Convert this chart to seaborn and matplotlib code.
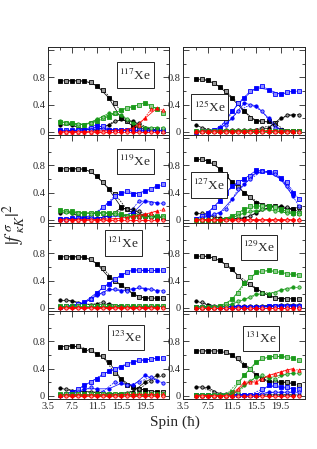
import numpy as np
import pandas as pd
import seaborn as sns
import matplotlib.pyplot as plt
from matplotlib.patches import Rectangle
from matplotlib.ticker import MultipleLocator, FixedLocator

# spins (hbar), one value per spin; even index = filled / solid, odd index = open / dashed
spins = np.arange(5.5, 23.0, 1.0)

# series order: black sq, black circ, blue sq, blue circ, green sq, green circ, red tri, red circ
xe117 = [
    [0.75, 0.75, 0.75, 0.75, 0.75, 0.73, 0.68, 0.62, 0.50, 0.43, 0.20, 0.15, 0.08, 0.05, 0.03, 0.02, 0.02, 0.01],
    [0.10, 0.12, 0.10, 0.06, 0.03, 0.02, 0.02, 0.05, 0.10, 0.16, 0.18, 0.17, 0.15, 0.12, 0.05, 0.03, 0.03, 0.02],
    [0.02, 0.02, 0.02, 0.02, 0.03, 0.05, 0.10, 0.08, 0.03, 0.02, 0.03, 0.03, 0.02, 0.02, 0.02, 0.02, 0.02, 0.02],
    [0.01, 0.01, 0.01, 0.02, 0.02, 0.03, 0.06, 0.04, 0.02, 0.02, 0.02, 0.02, 0.01, 0.01, 0.01, 0.01, 0.01, 0.01],
    [0.14, 0.13, 0.12, 0.10, 0.10, 0.12, 0.15, 0.20, 0.22, 0.28, 0.32, 0.35, 0.37, 0.40, 0.43, 0.38, 0.33, 0.28],
    [0.15, 0.13, 0.12, 0.11, 0.10, 0.13, 0.18, 0.22, 0.27, 0.27, 0.25, 0.18, 0.12, 0.08, 0.06, 0.06, 0.06, 0.06],
    [0.00, 0.00, 0.00, 0.00, 0.00, 0.00, 0.01, 0.01, 0.01, 0.02, 0.02, 0.03, 0.05, 0.10, 0.20, 0.33, 0.35, 0.32],
    [0.00, 0.00, 0.00, 0.00, 0.00, 0.00, 0.00, 0.00, 0.00, 0.00, 0.00, 0.00, 0.00, 0.00, 0.00, 0.00, 0.00, 0.00],
]
xe125 = [
    [0.78, 0.78, 0.76, 0.72, 0.66, 0.60, 0.49, 0.42, 0.30, 0.20, 0.15, 0.15, 0.15, 0.12, 0.02, 0.01, 0.01, 0.01],
    [0.10, 0.06, 0.02, 0.02, 0.02, 0.02, 0.02, 0.02, 0.02, 0.02, 0.03, 0.06, 0.05, 0.10, 0.20, 0.25, 0.25, 0.25],
    [0.00, 0.01, 0.01, 0.02, 0.05, 0.15, 0.30, 0.42, 0.50, 0.60, 0.65, 0.68, 0.62, 0.55, 0.55, 0.58, 0.60, 0.60],
    [0.01, 0.01, 0.01, 0.02, 0.04, 0.10, 0.20, 0.30, 0.42, 0.40, 0.38, 0.30, 0.20, 0.05, 0.02, 0.01, 0.01, 0.01],
    [0.01, 0.01, 0.01, 0.01, 0.01, 0.01, 0.01, 0.01, 0.01, 0.01, 0.01, 0.01, 0.01, 0.01, 0.01, 0.01, 0.01, 0.01],
    [0.01, 0.01, 0.01, 0.01, 0.01, 0.01, 0.01, 0.01, 0.01, 0.01, 0.01, 0.01, 0.01, 0.01, 0.01, 0.01, 0.01, 0.01],
    [0.01, 0.01, 0.01, 0.01, 0.01, 0.01, 0.01, 0.01, 0.01, 0.01, 0.02, 0.02, 0.02, 0.01, 0.01, 0.01, 0.01, 0.01],
    [0.00, 0.00, 0.00, 0.00, 0.00, 0.00, 0.00, 0.00, 0.00, 0.00, 0.00, 0.00, 0.00, 0.00, 0.00, 0.00, 0.00, 0.00],
]
xe119 = [
    [0.75, 0.75, 0.75, 0.75, 0.75, 0.72, 0.65, 0.55, 0.45, 0.38, 0.19, 0.15, 0.10, 0.05, 0.05, 0.05, 0.04, 0.04],
    [0.10, 0.12, 0.10, 0.05, 0.02, 0.02, 0.02, 0.03, 0.05, 0.10, 0.17, 0.16, 0.15, 0.12, 0.05, 0.04, 0.04, 0.03],
    [0.01, 0.01, 0.02, 0.02, 0.03, 0.05, 0.10, 0.18, 0.25, 0.35, 0.40, 0.42, 0.38, 0.38, 0.42, 0.45, 0.50, 0.52],
    [0.01, 0.01, 0.01, 0.01, 0.02, 0.02, 0.02, 0.03, 0.05, 0.08, 0.05, 0.05, 0.10, 0.28, 0.28, 0.25, 0.25, 0.24],
    [0.14, 0.13, 0.12, 0.10, 0.10, 0.10, 0.10, 0.10, 0.10, 0.10, 0.08, 0.06, 0.05, 0.05, 0.05, 0.05, 0.06, 0.05],
    [0.12, 0.11, 0.10, 0.10, 0.09, 0.09, 0.09, 0.10, 0.09, 0.08, 0.06, 0.05, 0.04, 0.04, 0.04, 0.04, 0.04, 0.04],
    [0.00, 0.00, 0.00, 0.00, 0.00, 0.00, 0.00, 0.01, 0.01, 0.01, 0.02, 0.03, 0.05, 0.05, 0.08, 0.10, 0.13, 0.15],
    [0.00, 0.00, 0.00, 0.00, 0.00, 0.00, 0.00, 0.00, 0.00, 0.00, 0.00, 0.00, 0.00, 0.00, 0.00, 0.00, 0.00, 0.00],
]
xe127 = [
    [0.90, 0.90, 0.87, 0.83, 0.75, 0.65, 0.55, 0.48, 0.40, 0.33, 0.25, 0.22, 0.20, 0.20, 0.17, 0.15, 0.15, 0.18],
    [0.10, 0.10, 0.06, 0.05, 0.02, 0.01, 0.01, 0.02, 0.02, 0.05, 0.10, 0.15, 0.18, 0.20, 0.20, 0.18, 0.15, 0.12],
    [0.01, 0.05, 0.10, 0.18, 0.28, 0.40, 0.50, 0.55, 0.60, 0.65, 0.73, 0.72, 0.70, 0.70, 0.62, 0.55, 0.40, 0.30],
    [0.01, 0.02, 0.05, 0.08, 0.10, 0.15, 0.30, 0.45, 0.52, 0.60, 0.70, 0.72, 0.70, 0.68, 0.60, 0.50, 0.35, 0.20],
    [0.00, 0.00, 0.00, 0.00, 0.00, 0.01, 0.05, 0.10, 0.15, 0.20, 0.20, 0.20, 0.20, 0.18, 0.15, 0.12, 0.10, 0.10],
    [0.00, 0.00, 0.00, 0.00, 0.00, 0.01, 0.03, 0.06, 0.10, 0.12, 0.13, 0.15, 0.15, 0.13, 0.12, 0.10, 0.08, 0.08],
    [0.01, 0.01, 0.01, 0.01, 0.01, 0.01, 0.01, 0.01, 0.01, 0.01, 0.01, 0.01, 0.01, 0.01, 0.01, 0.01, 0.01, 0.01],
    [0.00, 0.00, 0.00, 0.00, 0.00, 0.00, 0.00, 0.00, 0.00, 0.00, 0.00, 0.00, 0.00, 0.00, 0.00, 0.00, 0.00, 0.00],
]
xe121 = [
    [0.75, 0.75, 0.75, 0.75, 0.75, 0.72, 0.65, 0.58, 0.45, 0.40, 0.33, 0.28, 0.20, 0.15, 0.14, 0.14, 0.14, 0.14],
    [0.11, 0.11, 0.10, 0.07, 0.05, 0.04, 0.05, 0.08, 0.05, 0.03, 0.02, 0.02, 0.02, 0.02, 0.02, 0.02, 0.02, 0.02],
    [0.01, 0.02, 0.03, 0.05, 0.08, 0.12, 0.22, 0.30, 0.35, 0.42, 0.48, 0.52, 0.56, 0.55, 0.55, 0.55, 0.55, 0.55],
    [0.01, 0.01, 0.02, 0.03, 0.07, 0.12, 0.18, 0.22, 0.27, 0.28, 0.25, 0.25, 0.28, 0.30, 0.28, 0.27, 0.25, 0.25],
    [0.02, 0.02, 0.02, 0.02, 0.02, 0.02, 0.02, 0.02, 0.02, 0.02, 0.02, 0.02, 0.02, 0.02, 0.02, 0.02, 0.02, 0.02],
    [0.01, 0.01, 0.01, 0.01, 0.01, 0.01, 0.01, 0.01, 0.01, 0.01, 0.01, 0.01, 0.01, 0.01, 0.01, 0.01, 0.01, 0.01],
    [0.01, 0.01, 0.01, 0.01, 0.01, 0.01, 0.01, 0.01, 0.01, 0.01, 0.01, 0.01, 0.01, 0.01, 0.01, 0.01, 0.01, 0.01],
    [0.00, 0.00, 0.00, 0.00, 0.00, 0.00, 0.00, 0.00, 0.00, 0.00, 0.00, 0.00, 0.00, 0.00, 0.00, 0.00, 0.00, 0.00],
]
xe129 = [
    [0.76, 0.76, 0.76, 0.74, 0.70, 0.63, 0.57, 0.47, 0.37, 0.35, 0.28, 0.22, 0.18, 0.14, 0.13, 0.13, 0.13, 0.13],
    [0.10, 0.08, 0.04, 0.03, 0.02, 0.02, 0.02, 0.02, 0.02, 0.02, 0.02, 0.02, 0.03, 0.03, 0.04, 0.04, 0.04, 0.04],
    [0.01, 0.01, 0.01, 0.01, 0.01, 0.01, 0.01, 0.01, 0.01, 0.01, 0.01, 0.01, 0.02, 0.02, 0.03, 0.03, 0.03, 0.03],
    [0.01, 0.01, 0.01, 0.01, 0.01, 0.01, 0.01, 0.01, 0.01, 0.01, 0.01, 0.01, 0.01, 0.02, 0.02, 0.02, 0.02, 0.02],
    [0.01, 0.01, 0.01, 0.01, 0.02, 0.05, 0.12, 0.22, 0.36, 0.45, 0.52, 0.54, 0.55, 0.54, 0.52, 0.50, 0.49, 0.48],
    [0.01, 0.01, 0.01, 0.01, 0.01, 0.02, 0.05, 0.10, 0.12, 0.15, 0.20, 0.22, 0.20, 0.22, 0.26, 0.28, 0.30, 0.30],
    [0.00, 0.00, 0.00, 0.00, 0.00, 0.00, 0.00, 0.00, 0.00, 0.00, 0.00, 0.00, 0.00, 0.00, 0.00, 0.00, 0.00, 0.00],
    [0.00, 0.00, 0.00, 0.00, 0.00, 0.00, 0.00, 0.00, 0.00, 0.00, 0.00, 0.00, 0.00, 0.00, 0.00, 0.00, 0.00, 0.00],
]
xe123 = [
    [0.72, 0.72, 0.74, 0.73, 0.68, 0.67, 0.62, 0.58, 0.50, 0.33, 0.25, 0.15, 0.12, 0.10, 0.08, 0.06, 0.05, 0.05],
    [0.11, 0.10, 0.07, 0.06, 0.06, 0.05, 0.05, 0.04, 0.03, 0.03, 0.03, 0.04, 0.06, 0.10, 0.20, 0.22, 0.30, 0.30],
    [0.01, 0.02, 0.05, 0.10, 0.15, 0.20, 0.25, 0.32, 0.36, 0.40, 0.42, 0.47, 0.50, 0.52, 0.53, 0.54, 0.55, 0.56],
    [0.01, 0.01, 0.02, 0.05, 0.10, 0.12, 0.10, 0.06, 0.10, 0.20, 0.18, 0.15, 0.15, 0.20, 0.30, 0.28, 0.22, 0.18],
    [0.02, 0.02, 0.02, 0.02, 0.02, 0.02, 0.02, 0.02, 0.02, 0.02, 0.02, 0.02, 0.02, 0.02, 0.02, 0.02, 0.02, 0.02],
    [0.01, 0.01, 0.01, 0.01, 0.01, 0.01, 0.01, 0.01, 0.01, 0.01, 0.01, 0.01, 0.01, 0.01, 0.01, 0.01, 0.01, 0.01],
    [0.01, 0.01, 0.01, 0.01, 0.01, 0.01, 0.01, 0.01, 0.01, 0.01, 0.01, 0.02, 0.02, 0.02, 0.02, 0.02, 0.02, 0.02],
    [0.00, 0.00, 0.00, 0.00, 0.00, 0.00, 0.00, 0.00, 0.00, 0.00, 0.00, 0.00, 0.00, 0.00, 0.00, 0.00, 0.00, 0.00],
]
xe131 = [
    [0.66, 0.66, 0.66, 0.66, 0.66, 0.65, 0.60, 0.55, 0.45, 0.40, 0.30, 0.25, 0.20, 0.20, 0.20, 0.20, 0.18, 0.15],
    [0.13, 0.12, 0.12, 0.05, 0.02, 0.02, 0.01, 0.01, 0.01, 0.01, 0.01, 0.01, 0.01, 0.01, 0.01, 0.01, 0.01, 0.01],
    [0.01, 0.01, 0.01, 0.01, 0.01, 0.01, 0.01, 0.01, 0.01, 0.01, 0.01, 0.10, 0.15, 0.15, 0.12, 0.12, 0.10, 0.10],
    [0.01, 0.01, 0.01, 0.01, 0.01, 0.01, 0.01, 0.01, 0.01, 0.01, 0.01, 0.03, 0.05, 0.05, 0.05, 0.05, 0.05, 0.05],
    [0.01, 0.01, 0.01, 0.01, 0.01, 0.01, 0.05, 0.20, 0.30, 0.40, 0.50, 0.56, 0.57, 0.58, 0.58, 0.57, 0.55, 0.52],
    [0.01, 0.01, 0.01, 0.01, 0.01, 0.01, 0.01, 0.05, 0.15, 0.22, 0.28, 0.30, 0.26, 0.24, 0.30, 0.32, 0.33, 0.33],
    [0.00, 0.00, 0.00, 0.00, 0.00, 0.00, 0.00, 0.10, 0.20, 0.20, 0.20, 0.25, 0.30, 0.32, 0.35, 0.38, 0.40, 0.38],
    [0.00, 0.00, 0.00, 0.00, 0.00, 0.00, 0.00, 0.00, 0.00, 0.00, 0.00, 0.00, 0.00, 0.00, 0.00, 0.00, 0.00, 0.00],
]

panels = [xe117, xe125, xe119, xe127, xe121, xe129, xe123, xe131]
isotopes = ['117', '125', '119', '127', '121', '129', '123', '131']
label_pos = [(0.72, 0.68), (0.215, 0.32), (0.72, 0.70), (0.21, 0.43),
             (0.62, 0.77), (0.62, 0.72), (0.64, 0.70), (0.64, 0.69)]

colors = ['black', 'black', '#0000ff', '#0000ff', '#1a9a1a', '#1a9a1a', '#ff0000', '#ff0000']
open_fill = ['#999999', '#999999', '#8c8cff', '#8c8cff', '#8fcc8f', '#8fcc8f', '#ff9090', '#ff9090']
markers = ['s', 'o', 's', 'o', 's', 'o', '^', 'o']

sns.set_style('ticks')
plt.rcParams['font.family'] = ['Liberation Serif', 'DejaVu Serif']
plt.rcParams['mathtext.fontset'] = 'stix'

fig, axes = plt.subplots(4, 2, figsize=(3.17, 4.49), dpi=100, sharex=True, sharey=True)
fig.subplots_adjust(left=0.1514, right=0.962, top=0.8953, bottom=0.1114,
                    wspace=0.115, hspace=0.0)

box_w, box_h = 0.30, 0.29

for k, ax in enumerate(axes.flat):
    data = panels[k]
    for j in range(len(data)):
        vals = np.array(data[j])
        c = colors[j]
        # filled markers, solid line
        sns.lineplot(x=spins[0::2], y=vals[0::2], ax=ax, color=c, marker=markers[j],
                     markersize=2.4, markeredgecolor=c, markerfacecolor=c,
                     markeredgewidth=0.6, linewidth=0.5, linestyle='-')
        # open markers, dashed line
        sns.lineplot(x=spins[1::2], y=vals[1::2], ax=ax, color=c, marker=markers[j],
                     markersize=2.4, markeredgecolor=c, markerfacecolor=open_fill[j],
                     markeredgewidth=0.6, linewidth=0.5, linestyle=(0, (2.5, 1.5)))
    ax.set_xlim(3.5, 23.5)
    ax.set_ylim(-0.05, 1.25)
    ax.xaxis.set_major_locator(FixedLocator([3.5, 7.5, 11.5, 15.5, 19.5, 23.5]))
    ax.xaxis.set_minor_locator(FixedLocator([5.5, 9.5, 13.5, 17.5, 21.5]))
    ax.set_yticks([0, 0.4, 0.8, 1.2])
    ax.set_yticklabels(['0', '0.4', '0.8', ''])
    ax.yaxis.set_minor_locator(MultipleLocator(0.2))
    ax.tick_params(which='both', direction='in', top=True, right=True,
                   labelsize=7.5, width=0.6, pad=2)
    ax.tick_params(which='major', length=4)
    ax.tick_params(which='minor', length=2)
    for sp in ax.spines.values():
        sp.set_linewidth(0.7)
    ax.set_xlabel('')
    ax.set_ylabel('')
    ax.tick_params(axis='y', labelleft=True)
    cx, cy = label_pos[k]
    ax.add_patch(Rectangle((cx - box_w / 2, cy - box_h / 2), box_w, box_h,
                           transform=ax.transAxes, facecolor='white',
                           edgecolor='black', linewidth=0.6, zorder=5))
    ax.text(cx, cy, r'$^{' + isotopes[k] + r'}$Xe',
            transform=ax.transAxes, ha='center', va='center', fontsize=9.6, zorder=6)

for ax in axes[-1]:
    ax.set_xticklabels(['3.5', '7.5', '11.5', '15.5', '19.5', ''])

fig.text(0.045, 0.50, r'$|f^{\,\sigma}_{\;\kappa K}|^2$', rotation=90,
         ha='center', va='center', fontsize=14)
fig.text(0.552, 0.06, 'Spin (\u0127)', ha='center', va='center', fontsize=11)

fig.savefig('out.png', dpi=100)
